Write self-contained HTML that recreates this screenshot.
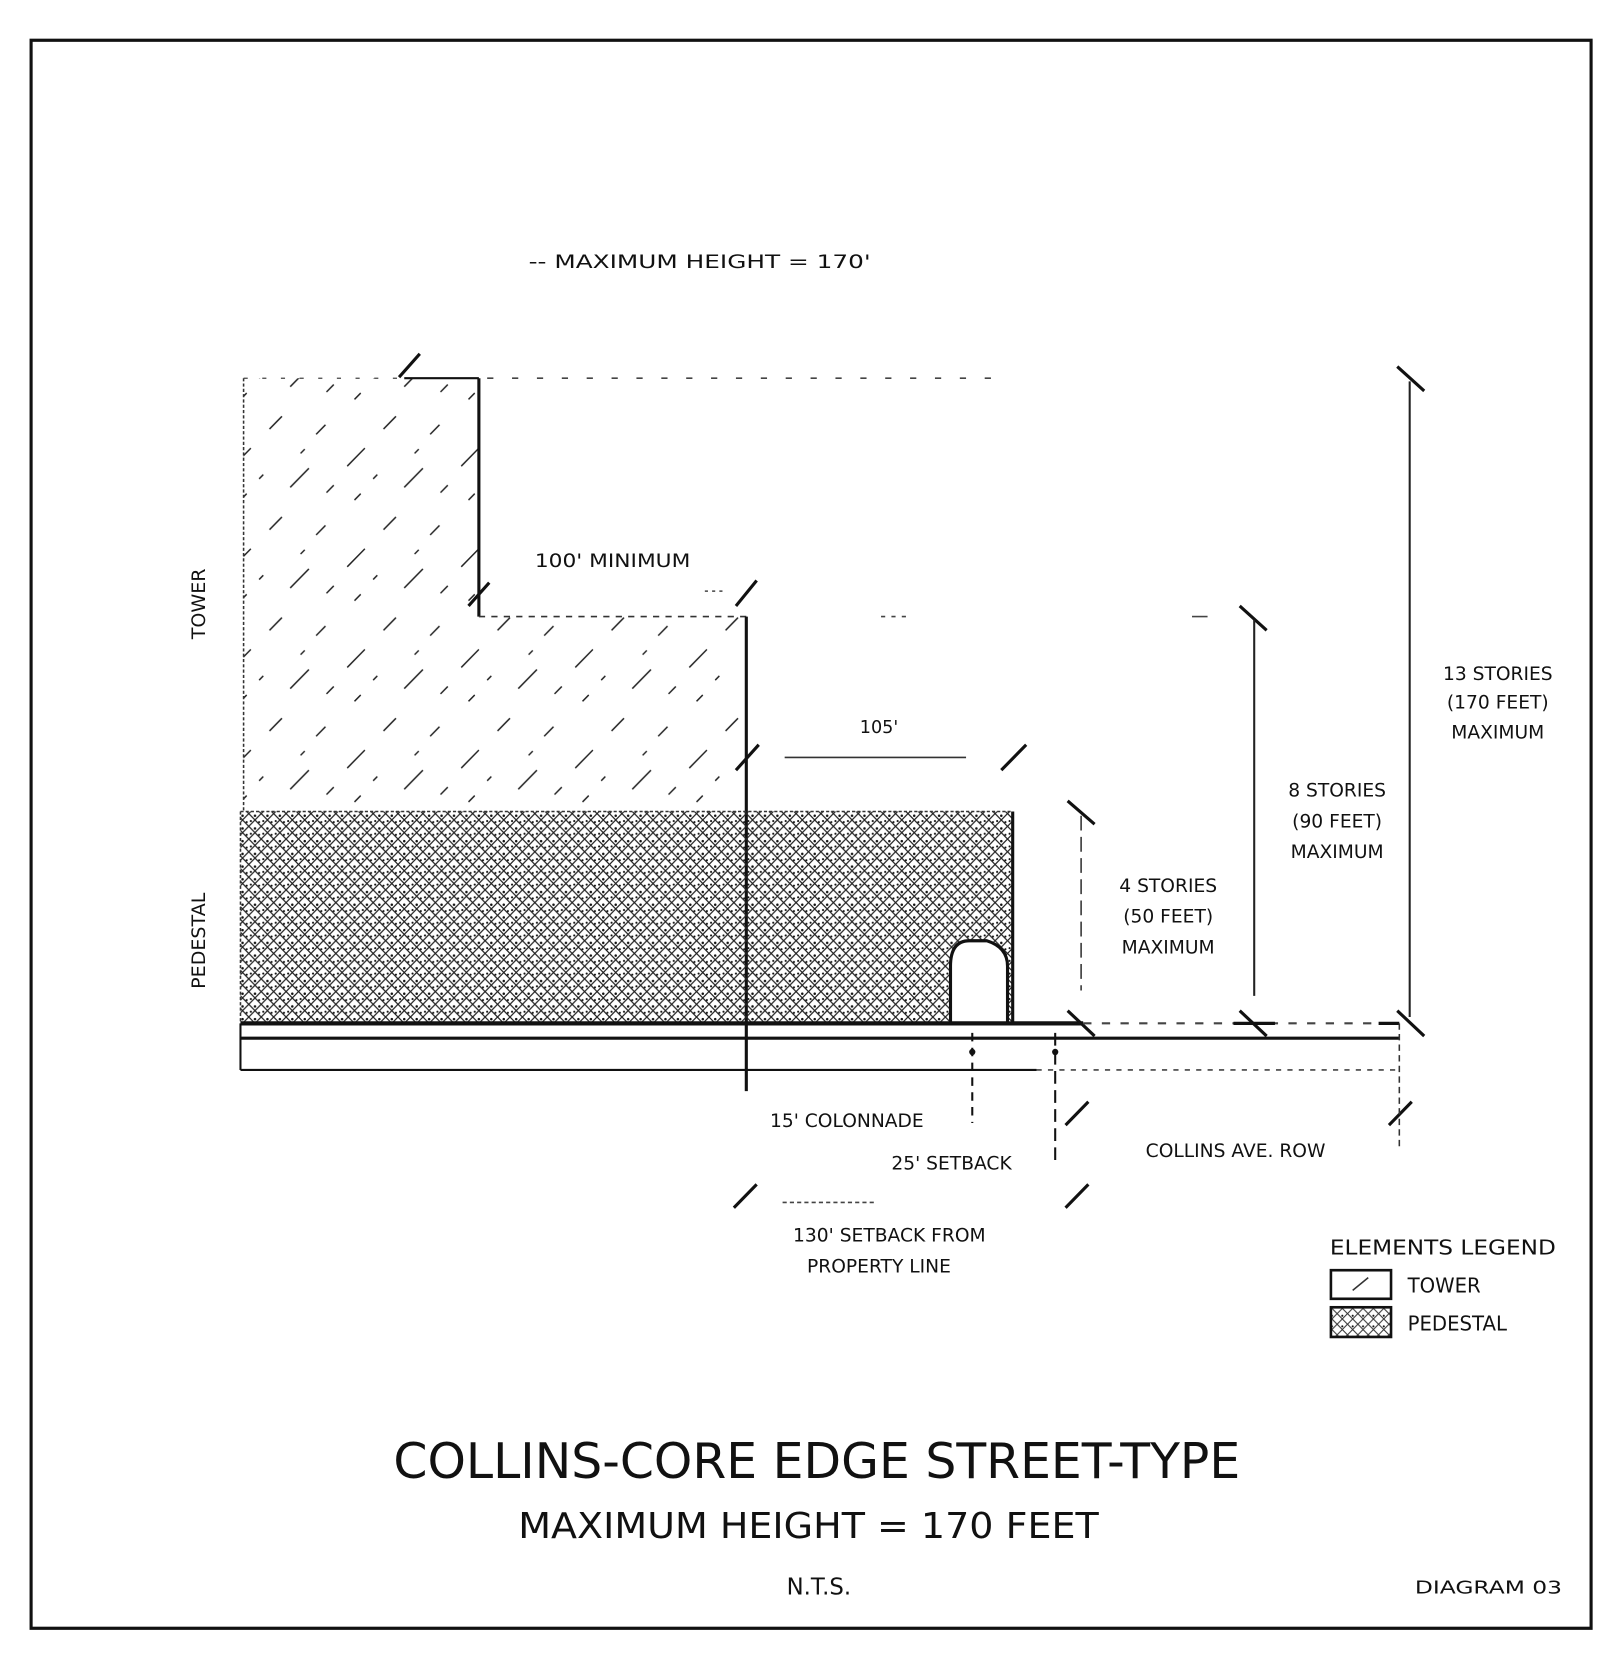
<!DOCTYPE html>
<html><head><meta charset="utf-8"><style>
html,body{margin:0;padding:0;background:#fff;width:1617px;height:1659px;overflow:hidden}
svg{display:block}
text{font-family:"DejaVu Sans","Liberation Sans",sans-serif;fill:#111}
</style></head><body>
<svg width="1617" height="1659" viewBox="0 0 1560 1566" preserveAspectRatio="none" xmlns="http://www.w3.org/2000/svg">
<defs>
<pattern id="tw" width="110" height="95" patternUnits="userSpaceOnUse">
<path d="M5 60 L22 43 M60 80 L78 62 M40 25 L52 13 M12 92 L18 86 M85 30 L94 21 M70 48 L74 44 M30 72 L34 68 M95 85 L102 78" stroke="#222" stroke-width="1.4"/>
</pattern>
<pattern id="pd" width="12" height="12" patternUnits="userSpaceOnUse">
<path d="M0 0 L12 12 M12 0 L0 12" stroke="#222" stroke-width="1.2"/>
<circle cx="6" cy="2" r="1.2" fill="#111"/>
<circle cx="2" cy="7" r="1" fill="#111"/>
<circle cx="10" cy="8" r="1" fill="#111"/>
</pattern>
<pattern id="pdl" width="10" height="10" patternUnits="userSpaceOnUse">
<path d="M0 0 L10 10 M10 0 L0 10" stroke="#333" stroke-width="1"/>
<circle cx="5" cy="2" r="1" fill="#111"/>
</pattern>
</defs>
<rect x="0" y="0" width="1560" height="1566" fill="#fff"/>
<rect x="30" y="38" width="1505" height="1499" fill="none" stroke="#111" stroke-width="3"/>

<text x="510" y="253" font-size="18" textLength="330" lengthAdjust="spacingAndGlyphs">-- MAXIMUM HEIGHT = 170'</text>

<path d="M235 357 L462 357 L462 582 L720 582 L720 766 L235 766 Z" fill="url(#tw)"/>
<line x1="235" y1="357" x2="235" y2="766" stroke="#333" stroke-width="1.5" stroke-dasharray="3 2"/>
<line x1="235" y1="357" x2="390" y2="357" stroke="#444" stroke-width="1.2" stroke-dasharray="4 14"/>
<line x1="390" y1="357" x2="462" y2="357" stroke="#111" stroke-width="2"/>
<line x1="462" y1="357" x2="462" y2="582" stroke="#111" stroke-width="3"/>
<line x1="462" y1="582" x2="720" y2="582" stroke="#333" stroke-width="1.5" stroke-dasharray="6 6"/>
<line x1="720" y1="582" x2="720" y2="1030" stroke="#111" stroke-width="3"/>
<line x1="470" y1="357" x2="965" y2="357" stroke="#444" stroke-width="1.5" stroke-dasharray="6 18"/>
<line x1="850" y1="582" x2="880" y2="582" stroke="#444" stroke-width="1.5" stroke-dasharray="4 6"/>
<line x1="1150" y1="582" x2="1165" y2="582" stroke="#444" stroke-width="1.5"/>

<g stroke="#111" stroke-width="3">
<line x1="385" y1="356" x2="405" y2="334"/>
<line x1="452" y1="572" x2="472" y2="550"/>
<line x1="710" y1="572" x2="730" y2="548"/>
<line x1="710" y1="727" x2="732" y2="703"/>
<line x1="966" y1="727" x2="990" y2="703"/>
<line x1="1030" y1="756" x2="1056" y2="778"/>
<line x1="1196" y1="572" x2="1222" y2="595"/>
<line x1="1348" y1="346" x2="1374" y2="369"/>
<line x1="1030" y1="954" x2="1056" y2="978"/>
<line x1="1196" y1="954" x2="1222" y2="978"/>
<line x1="1348" y1="954" x2="1374" y2="978"/>
<line x1="1028" y1="1062" x2="1050" y2="1040"/>
<line x1="1028" y1="1140" x2="1050" y2="1118"/>
<line x1="1340" y1="1062" x2="1362" y2="1040"/>
<line x1="708" y1="1140" x2="730" y2="1118"/>
</g>

<text x="516" y="535" font-size="18" textLength="150" lengthAdjust="spacingAndGlyphs">100' MINIMUM</text>
<line x1="680" y1="558" x2="700" y2="558" stroke="#444" stroke-width="1.5" stroke-dasharray="3 4"/>
<text x="848" y="692" font-size="17" text-anchor="middle">105'</text>
<line x1="757" y1="715" x2="932" y2="715" stroke="#333" stroke-width="1.5"/>

<text transform="translate(198,570) rotate(-90)" font-size="18" text-anchor="middle">TOWER</text>
<text transform="translate(198,888) rotate(-90)" font-size="18" text-anchor="middle">PEDESTAL</text>

<rect x="232" y="766" width="745" height="200" fill="url(#pd)"/>
<line x1="232" y1="766" x2="977" y2="766" stroke="#333" stroke-width="1.5" stroke-dasharray="3 2"/>
<line x1="232" y1="766" x2="232" y2="966" stroke="#333" stroke-width="1.5" stroke-dasharray="3 2"/>
<line x1="977" y1="766" x2="977" y2="966" stroke="#111" stroke-width="3"/>
<path d="M917 966 L917 912 Q917 888 935 888 L952 888 Q972 894 972 912 L972 966 Z" fill="#fff" stroke="#111" stroke-width="3"/>

<line x1="232" y1="966" x2="1045" y2="966" stroke="#111" stroke-width="4"/>
<line x1="232" y1="980" x2="1350" y2="980" stroke="#111" stroke-width="3"/>
<line x1="232" y1="1010" x2="1000" y2="1010" stroke="#111" stroke-width="2"/>
<line x1="1000" y1="1010" x2="1350" y2="1010" stroke="#444" stroke-width="1.5" stroke-dasharray="5 6"/>
<line x1="232" y1="966" x2="232" y2="1010" stroke="#111" stroke-width="2"/>
<line x1="1045" y1="966" x2="1350" y2="966" stroke="#444" stroke-width="2" stroke-dasharray="8 10"/>
<line x1="1190" y1="966" x2="1230" y2="966" stroke="#111" stroke-width="3"/>
<line x1="1330" y1="966" x2="1350" y2="966" stroke="#111" stroke-width="3"/>
<line x1="1350" y1="966" x2="1350" y2="1085" stroke="#333" stroke-width="1.5" stroke-dasharray="6 4"/>
<line x1="938" y1="975" x2="938" y2="1060" stroke="#111" stroke-width="2" stroke-dasharray="8 6"/>
<line x1="1018" y1="975" x2="1018" y2="1100" stroke="#111" stroke-width="2" stroke-dasharray="12 6"/>
<circle cx="938" cy="993" r="3" fill="#111"/>
<circle cx="1018" cy="993" r="3" fill="#111"/>

<line x1="1043" y1="770" x2="1043" y2="935" stroke="#333" stroke-width="1.5" stroke-dasharray="14 6"/>
<line x1="1210" y1="585" x2="1210" y2="940" stroke="#222" stroke-width="2"/>
<line x1="1360" y1="360" x2="1360" y2="960" stroke="#222" stroke-width="2"/>
<g font-size="18" text-anchor="middle">
<text x="1127" y="842">4 STORIES</text>
<text x="1127" y="871">(50 FEET)</text>
<text x="1127" y="900">MAXIMUM</text>
<text x="1290" y="752">8 STORIES</text>
<text x="1290" y="781">(90 FEET)</text>
<text x="1290" y="810">MAXIMUM</text>
<text x="1445" y="642">13 STORIES</text>
<text x="1445" y="669">(170 FEET)</text>
<text x="1445" y="697">MAXIMUM</text>
<text x="817" y="1064">15' COLONNADE</text>
<text x="918" y="1104">25' SETBACK</text>
<text x="1192" y="1092">COLLINS AVE. ROW</text>
<text x="858" y="1172">130' SETBACK FROM</text>
<text x="848" y="1201">PROPERTY LINE</text>
</g>
<line x1="755" y1="1135" x2="845" y2="1135" stroke="#444" stroke-width="1.5" stroke-dasharray="4 3"/>

<text x="1283" y="1184" font-size="19" textLength="218" lengthAdjust="spacingAndGlyphs">ELEMENTS LEGEND</text>
<rect x="1284" y="1199" width="58" height="27" fill="#fff" stroke="#111" stroke-width="2.5"/>
<line x1="1305" y1="1218" x2="1320" y2="1206" stroke="#333" stroke-width="1.5"/>
<rect x="1284" y="1234" width="58" height="28" fill="url(#pdl)" stroke="#111" stroke-width="2.5"/>
<text x="1358" y="1220" font-size="19">TOWER</text>
<text x="1358" y="1256" font-size="19">PEDESTAL</text>

<text x="788" y="1395" font-size="46" text-anchor="middle" textLength="817" lengthAdjust="spacingAndGlyphs">COLLINS-CORE EDGE STREET-TYPE</text>
<text x="780" y="1452" font-size="34" text-anchor="middle" textLength="560" lengthAdjust="spacingAndGlyphs">MAXIMUM HEIGHT = 170 FEET</text>
<text x="790" y="1505" font-size="22" text-anchor="middle">N.T.S.</text>
<text x="1507" y="1504" font-size="17" text-anchor="end" textLength="142" lengthAdjust="spacingAndGlyphs">DIAGRAM 03</text>
</svg>
</body></html>
